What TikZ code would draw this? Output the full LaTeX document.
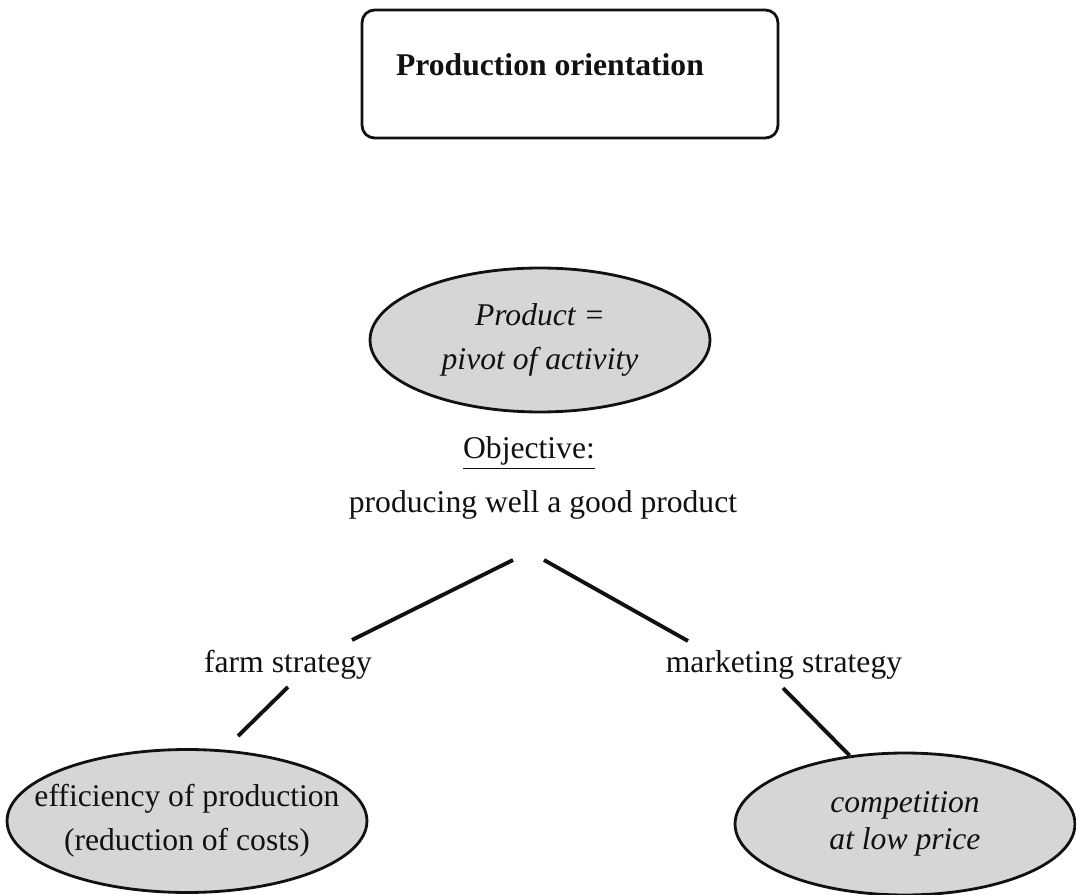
\documentclass[tikz,border=0pt]{standalone}
\usepackage{fontspec}
\setmainfont{Liberation Serif}
\usetikzlibrary{shapes.geometric}
\definecolor{Ink}{HTML}{111111}
\definecolor{Dots}{HTML}{D6D6D6}

\begin{document}
\begin{tikzpicture}[x=0.02cm,y=-0.02cm,
    txt/.style={inner sep=0pt,font=\fontsize{18}{25}\selectfont,text=Ink},
    frame/.style={draw=Ink,line width=1.6pt,rounded corners=2.5mm,minimum width=8.32cm,minimum height=2.56cm},
    bubble/.style={ellipse,draw=Ink,line width=1.6pt,fill=Dots,inner xsep=-1cm,inner ysep=-0.4cm,align=center,font=\fontsize{18}{25}\selectfont,text=Ink},
    link/.style={draw=Ink,line width=2.2pt}
  ]
    \useasboundingbox (0,0) rectangle (1076,895);
    \node[frame] (head) at (570,74) {};
    \node[txt,font=\fontsize{18}{22}\selectfont\bfseries] (title) at (550,65) {Production orientation};
    \node[bubble,minimum width=6.8cm,minimum height=2.88cm] (pivot) at (540,340) {\itshape Product =\\\itshape pivot of activity};
    \node[txt,anchor=base] (obj) at (529,459) {\underline{Objective:}};
    \node[txt,anchor=base] (goal) at (543,512) {producing well a good product};
    \node[txt,anchor=base] (farm) at (288,672) {farm strategy};
    \node[txt,anchor=base] (mkt) at (784,672) {marketing strategy};
    \node[bubble,minimum width=7.2cm,minimum height=2.86cm] (cost) at (187,821) {efficiency of production\\(reduction of costs)};
    \node[bubble,minimum width=6.8cm,minimum height=2.84cm,font=\fontsize{18}{21.5}\selectfont\itshape] (price) at (905,824) {competition\\at low price};
    % free ends of the strokes
    \coordinate (goalL) at (513,560); \coordinate (farmT) at (352,640);
    \coordinate (goalR) at (544,560); \coordinate (mktT) at (688,641);
    \coordinate (farmB) at (288,687); \coordinate (costT) at (238,736);
    \coordinate (mktB) at (783,688);
    \draw[link] (goalL)--(farmT); \draw[link] (goalR)--(mktT);
    \draw[link] (farmB)--(costT); \draw[link] (mktB)--(price.129);
  \end{tikzpicture}
\end{document}
